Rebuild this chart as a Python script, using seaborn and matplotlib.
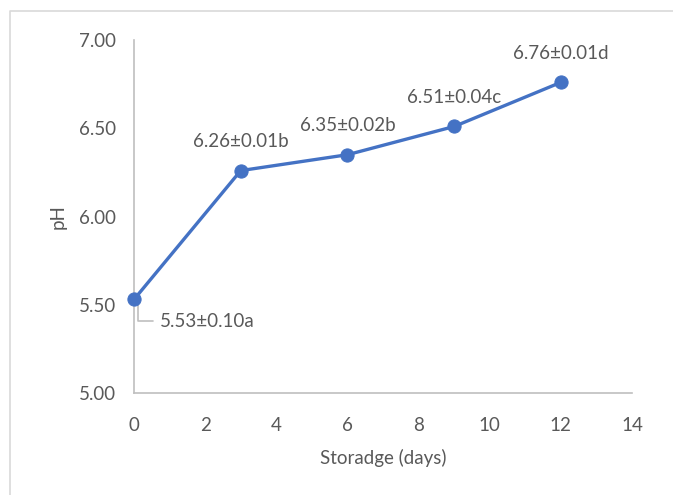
import matplotlib
matplotlib.use("Agg")
import matplotlib.pyplot as plt
from matplotlib.lines import Line2D
from matplotlib.transforms import ScaledTranslation
import seaborn as sns
import pandas as pd

# pH during storage
days = [0, 3, 6, 9, 12]
ph = [5.53, 6.26, 6.35, 6.51, 6.76]
sd = ["0.10", "0.01", "0.02", "0.04", "0.01"]
letters = ["a", "b", "b", "c", "d"]
x_ticks = [0, 2, 4, 6, 8, 10, 12, 14]
y_ticks = [5.0, 5.5, 6.0, 6.5, 7.0]

sns.set_style("white")
plt.rcParams["font.family"] = ["Lato", "DejaVu Sans"]

TEXT = "#595959"
GRID = "#bfbfbf"
BLUE = "#4472C4"

df = pd.DataFrame({"day": days, "pH": ph})

fig = plt.figure(figsize=(6.73, 4.95), dpi=100)
ax = fig.add_axes([134 / 673, 1 - 393 / 495, (632 - 134) / 673, (393 - 40) / 495])

sns.lineplot(data=df, x="day", y="pH", ax=ax, color=BLUE, linewidth=2.4,
             marker="o", markersize=9.5, markeredgecolor=BLUE, clip_on=False,
             zorder=5)

ax.set_xlim(0, 14)
ax.set_ylim(5.0, 7.0)
ax.set_xticks(x_ticks)
ax.set_xticklabels([str(t) for t in x_ticks])
ax.set_yticks(y_ticks)
ax.set_yticklabels([f"{t:.2f}" for t in y_ticks])
ax.tick_params(axis="both", length=0, labelsize=13.5, colors=TEXT)
ax.tick_params(axis="y", pad=13)
ax.tick_params(axis="x", pad=17)

for side in ["top", "right"]:
    ax.spines[side].set_visible(False)
for side in ["left", "bottom"]:
    ax.spines[side].set_color(GRID)
    ax.spines[side].set_linewidth(1.2)

ax.set_xlabel("Storadge (days)", fontsize=13.5, color=TEXT, labelpad=11)
ax.set_ylabel("pH", fontsize=13.5, color=TEXT, labelpad=9)

for i, (d, v) in enumerate(zip(days, ph)):
    label = f"{v:.2f}±{sd[i]}{letters[i]}"
    if i == 0:
        # leader line runs just right of the marker centre
        anchor = ax.transData + ScaledTranslation(4 / 100, 0, fig.dpi_scale_trans)
        ax.annotate(label, xy=(d, v), xycoords=anchor,
                    xytext=(22, -22), textcoords="offset pixels",
                    ha="left", va="center", fontsize=13.5, color=TEXT,
                    arrowprops=dict(arrowstyle="-", color=GRID, lw=1.2,
                                    connectionstyle="angle,angleA=0,angleB=90,rad=0",
                                    shrinkA=3, shrinkB=2))
    else:
        ax.annotate(label, xy=(d, v), xytext=(0, 29), textcoords="offset pixels",
                    ha="center", va="center", fontsize=13.5, color=TEXT)

# chart frame
bx = 10 / 673
by = 1 - 11 / 495
fig.add_artist(Line2D([bx, bx, 1.0], [0.0, by, by], transform=fig.transFigure,
                      color="#d9d9d9", linewidth=1.2))

fig.savefig("out.png", dpi=100)
